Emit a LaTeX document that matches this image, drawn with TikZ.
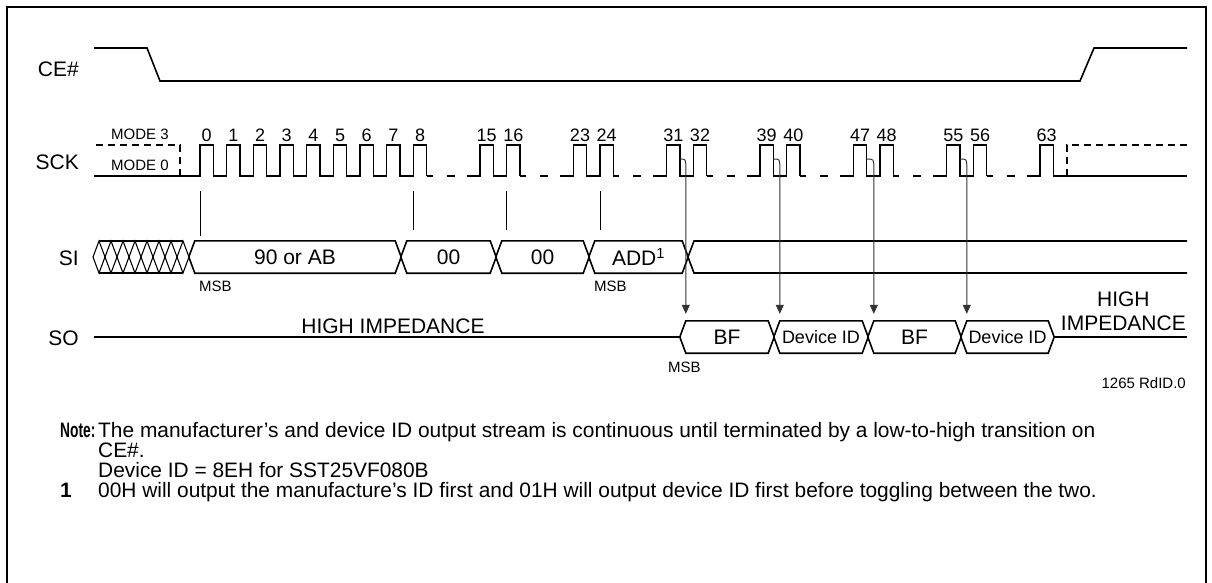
\documentclass[tikz,border=0pt]{standalone}
\usepackage{fontspec}
\usepackage{graphicx}
\setmainfont{Liberation Sans}
\usetikzlibrary{arrows.meta}
\begin{document}
\begin{tikzpicture}[x=1pt, y=-1pt, every node/.style={inner sep=0pt},
  wave/.style={line width=1.6pt},
  hatch/.style={line width=1.1pt},
  tick/.style={line width=0.8pt},
  modedash/.style={line width=1.4pt, dash pattern=on 7pt off 5pt},
  gapdash/.style={line width=1.6pt, dash pattern=on 6pt off 14pt on 8pt off 12pt},
  arr/.style={line width=1pt, black!80, -{Triangle[length=9pt,width=8pt]}, shorten >=7pt},
  big/.style={font=\fontsize{21}{24}\selectfont},
  num/.style={font=\fontsize{18}{20}\selectfont},
  small/.style={font=\fontsize{15}{17}\selectfont},
  note/.style={font=\fontsize{20.9}{22}\selectfont, anchor=base west},
  seg/.style={big, minimum height=32pt}]
\useasboundingbox (0,0) rectangle (1212,582);
\draw[line width=1.8pt] (7,590) -- (7,7) -- (1206,7) -- (1206,590);
% signal names
\node[big, anchor=east] (ce) at (79,69) {CE\#};
\node[big, anchor=east] (sck) at (79,162) {SCK};
\node[big, anchor=east] (si) at (79,258) {SI};
\node[big, anchor=east] (so) at (79,338) {SO};
% CE#
\draw[wave] (94,48) -- (147,48) -- (160,81) -- (1080,81) -- (1094,48) -- (1187,48);
% SCK
\node[small] (m3) at (140,134) {MODE 3};
\node[small] (m0) at (140,165.5) {MODE 0};
\draw[modedash] (96,145) -- (180,145) -- (180,176);
\draw[wave] (94,176) -- (186.67,176) \foreach \i in {0,...,8} {-- ++(13.333,0) -- ++(0,-31) -- ++(13.333,0) -- ++(0,31)};
\foreach \s/\n in {466.67/2, 560/2, 653.33/2, 746.67/2, 840/2, 933.33/2, 1026.67/1}
  \draw[wave] (\s,176) \foreach \i in {1,...,\n} {-- ++(13.333,0) -- ++(0,-31) -- ++(13.333,0) -- ++(0,31)};
\foreach \f in {426.67,520,613.33,706.67,800,893.33,986.67}
  \draw[gapdash] (\f,176) -- ++(40,0);
\draw[wave] (1053.33,176) -- (1187,176);
\draw[modedash] (1187,145) -- (1067,145) -- (1067,176);
\foreach \n in {0,...,8} \node[num] (c\n) at ({206.67+26.667*\n},135) {\n};
\foreach \n/\x in {15/486.67, 16/513.33, 23/580, 24/606.67, 31/673.33, 32/700, 39/766.67, 40/793.33, 47/860, 48/886.67, 55/953.33, 56/980, 63/1046.67}
  \node[num] (c\n) at (\x,135) {\n};
% SI
\draw[hatch] (93,257) \foreach \k in {0,...,7} { -- ({99+12*\k},{257-16*cos(180*\k)}) } -- (189,257);
\draw[hatch] (93,257) \foreach \k in {0,...,7} { -- ({99+12*\k},{257+16*cos(180*\k)}) } -- (189,257);
\draw[hatch] (99,241) -- (183,241) (99,273) -- (183,273);
\node[seg, minimum width=200pt] (op) at (295,257) {90 or AB};
\node[seg, minimum width=83pt] (a1) at (448.5,257) {00};
\node[seg, minimum width=81pt] (a2) at (542.5,257) {00};
\node[seg, minimum width=87pt] (ad) at (638.5,257) {ADD\textsuperscript{1}};
\draw[wave] (1187,241) -- (694,241) -- (688,257) -- (694,273) -- (1187,273);
\foreach \x/\y in {200/236, 413.33/230, 506.67/230, 600/230}
  \draw[tick] (\x,191) -- (\x,\y);
\node[small, anchor=west] (msb1) at (199,286) {MSB};
\node[small, anchor=west] (msb2) at (594,286) {MSB};
% SO
\node[seg, minimum width=82pt] (bf1) at (727,337) {BF};
\node[seg, minimum width=82pt, num] (id1) at (821,337) {Device ID};
\node[seg, minimum width=81pt] (bf2) at (914.5,337) {BF};
\node[seg, minimum width=81pt, num] (id2) at (1007.5,337) {Device ID};
\foreach \b in {op,a1,a2,ad,bf1,id1,bf2,id2}
  \draw[wave] (\b.north west) -- (\b.north east) -- ([xshift=6pt]\b.east) -- (\b.south east) -- (\b.south west) -- ([xshift=-6pt]\b.west) -- cycle;
\draw[wave] (94,337) -- ([xshift=-6pt]bf1.west);
\draw[wave] ([xshift=6pt]id2.east) -- (1187,337);
\node[big, anchor=base] (hz1) at (393,333) {HIGH IMPEDANCE};
\node[big, align=center, anchor=south east] (hz2) at (1186,331) {HIGH\\IMPEDANCE};
\node[small, anchor=west] (msb3) at (668,367) {MSB};
\node[small, anchor=east] (fig) at (1186,383) {1265 RdID.0};
% arrows from SCK to SO
\foreach \f/\b in {680/bf1, 773.33/id1, 866.67/bf2, 960/id2}
  \draw[arr] (\f,159) .. controls (\b.north west |- 0,159) .. (\b.north west |- 0,168) -- (\b.north west);
% notes
\node[note] (nt) at (60,437) {\scalebox{0.66}[1]{\textbf{Note:}}};
\node[note] (n1) at (98,437) {The manufacturer’s and device ID output stream is continuous until terminated by a low-to-high transition on};
\node[note] (n2) at (98,457) {CE\#.};
\node[note] (n3) at (98,477) {Device ID = 8EH for SST25VF080B};
\node[note] (fn) at (60,497) {\textbf{1}};
\node[note] (n4) at (98,497) {00H will output the manufacture’s ID first and 01H will output device ID first before toggling between the two.};
\end{tikzpicture}
\end{document}
